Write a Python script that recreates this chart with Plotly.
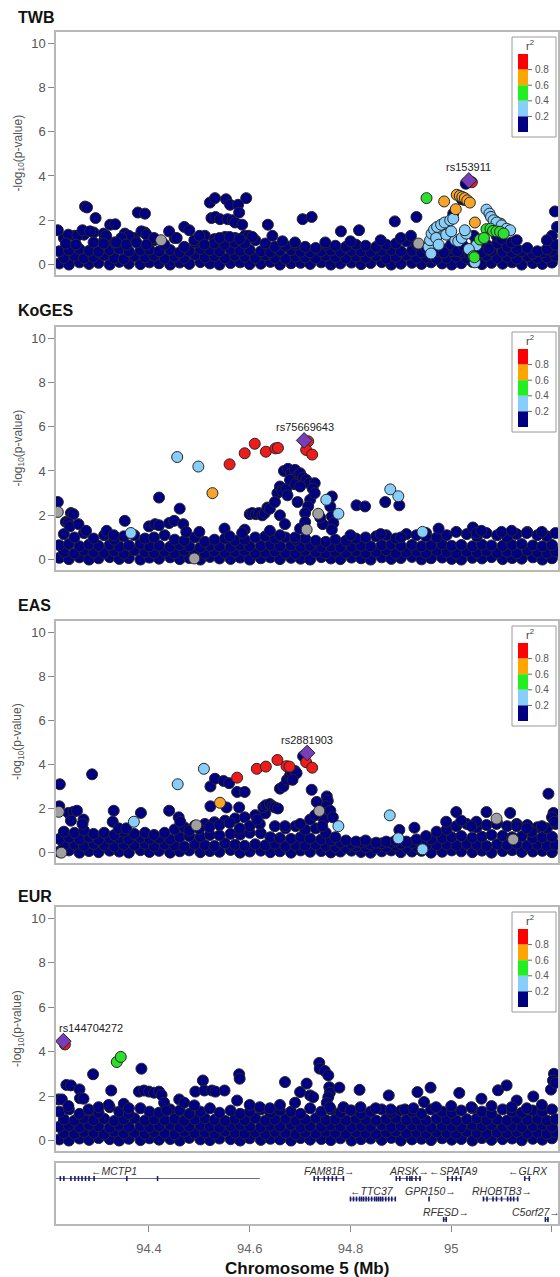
import plotly.graph_objects as go

W, H = 560, 1277
FONT = "Liberation Sans, Arial, Helvetica, sans-serif"

# ---------------- shared SNP positions of the dense low band (Mb) ----------------
band_pos_a = [94.222, 94.241, 94.262, 94.281, 94.300, 94.322, 94.341, 94.360, 94.383, 94.401,
              94.420, 94.442, 94.461, 94.480, 94.502, 94.521, 94.540, 94.562, 94.581, 94.600,
              94.622, 94.641, 94.660, 94.682, 94.701, 94.720, 94.742, 94.761, 94.780, 94.802,
              94.821, 94.840, 94.862, 94.881, 94.900, 94.922, 94.941, 94.960, 94.982, 95.001,
              95.020, 95.042, 95.061, 95.080, 95.102, 95.121, 95.140, 95.162, 95.181, 95.200]
band_pos_b = [94.231, 94.252, 94.271, 94.290, 94.311, 94.331, 94.350, 94.371, 94.392, 94.410,
              94.431, 94.451, 94.470, 94.491, 94.511, 94.530, 94.551, 94.571, 94.590, 94.611,
              94.631, 94.650, 94.671, 94.691, 94.710, 94.731, 94.751, 94.770, 94.791, 94.811,
              94.830, 94.851, 94.871, 94.890, 94.911, 94.931, 94.950, 94.971, 94.991, 95.010,
              95.031, 95.051, 95.070, 95.091, 95.111, 95.130, 95.151, 95.171, 95.190, 95.207]

# ---------------- TWB ----------------
twb_y0 = [0.05, 0.0, 0.1, 0.03, 0.08, 0.0, 0.12, 0.04, 0.02, 0.1,
          0.06, 0.0, 0.09, 0.03, 0.11, 0.05, 0.0, 0.07, 0.1, 0.02,
          0.04, 0.12, 0.0, 0.06, 0.08, 0.03, 0.1, 0.0, 0.05, 0.09,
          0.02, 0.07, 0.11, 0.0, 0.04, 0.08, 0.03, 0.1, 0.05, 0.0,
          0.06, 0.12, 0.02, 0.08, 0.04, 0.1, 0.0, 0.07, 0.03, 0.09]
twb_y1 = [0.3, 0.4, 0.28, 0.35, 0.42, 0.3, 0.25, 0.38, 0.33, 0.4,
          0.27, 0.36, 0.3, 0.44, 0.32, 0.38, 0.28, 0.4, 0.35, 0.3,
          0.42, 0.3, 0.26, 0.37, 0.33, 0.29, 0.4, 0.34, 0.28, 0.36,
          0.31, 0.39, 0.27, 0.35, 0.42, 0.3, 0.33, 0.25, 0.3, 0.36,
          0.28, 0.34, 0.4, 0.3, 0.35, 0.27, 0.38, 0.3, 0.33, 0.4]
twb_y2 = [0.6, 0.65, 0.7, 0.62, 0.58, 0.66, 0.7, 0.6, 0.64, 0.68,
          0.6, 0.66, 0.55, 0.62, 0.7, 0.65, 0.6, 0.68, 0.63, 0.66,
          0.6, 0.56, 0.62, 0.65, 0.58, 0.55, 0.6, 0.64, 0.58, 0.62,
          0.6, 0.57, 0.63, 0.66, 0.6, 0.62, 0.55, 0.5, 0.55, 0.6,
          0.55, 0.6, 0.65, 0.62, 0.58, 0.55, 0.6, 0.5, 0.55, 0.62]
twb_y3 = [1.2, 1.3, 1.35, 1.45, 1.1, 1.0, 1.3, 1.2, 1.45, 1.1,
          0.9, 1.2, 0.8, 1.0, 1.3, 1.15, 1.25, 1.2, 1.3, 1.1,
          0.95, 0.8, 0.85, 0.9, 0.8, 0.75, 0.9, 0.85, 0.8, 0.9,
          0.85, 0.8, 0.9, 0.95, 1.05, 0.9, 0.75, 0.6, 0.7, 0.8,
          0.7, 0.8, 0.9, 0.95, 0.8, 0.7, 0.75, 0.6, 0.7, 0.9]
twb_navy = [(94.219, 1.55), (94.273, 2.62), (94.277, 2.58), (94.294, 2.1), (94.24, 1.35), (94.258, 1.3),
            (94.268, 1.55), (94.283, 1.5), (94.31, 1.4), (94.323, 1.8), (94.333, 1.82), (94.315, 1.3),
            (94.352, 1.4), (94.36, 1.3), (94.345, 1.2), (94.378, 2.35), (94.392, 2.3), (94.385, 1.5),
            (94.395, 1.35), (94.41, 1.2), (94.44, 1.5), (94.47, 1.7), (94.48, 1.55), (94.455, 1.2),
            (94.49, 1.1), (94.50, 1.3), (94.521, 2.8), (94.531, 3.0), (94.524, 2.1), (94.532, 2.15),
            (94.541, 2.05), (94.553, 2.95), (94.561, 2.7), (94.556, 2.05), (94.566, 2.0), (94.577, 2.7),
            (94.579, 2.35), (94.571, 1.9), (94.593, 3.0), (94.585, 1.8), (94.598, 1.3), (94.605, 1.25),
            (94.636, 1.8), (94.645, 1.3), (94.705, 2.05), (94.723, 2.15), (94.781, 1.5), (94.817, 1.55),
            (94.888, 1.95), (94.931, 2.15), (95.029, 3.65), (95.021, 2.95), (95.026, 2.92), (95.004, 2.3),
            (95.206, 2.4), (95.21, 1.7), (95.2, 1.3), (95.19, 1.1), (95.045, 1.3), (95.05, 1.0),
            (95.09, 1.3), (95.1, 1.15), (95.12, 1.0), (95.13, 1.1), (94.665, 1.05), (94.69, 1.0),
            (94.75, 1.0), (94.8, 1.05), (94.86, 1.1), (94.9, 1.2), (94.92, 1.3), (94.235, 0.95),
            (94.255, 0.9), (94.29, 1.0), (94.31, 0.95), (94.335, 1.0), (94.355, 0.9), (94.375, 1.0),
            (94.395, 0.9), (94.53, 0.95), (94.55, 0.9), (94.57, 1.0), (94.59, 0.95), (94.51, 0.9),
            (94.54, 1.2), (94.56, 1.25), (94.58, 1.15), (95.0, 0.9), (95.012, 0.6), (95.024, 0.85),
            (95.038, 0.45), (94.985, 0.55), (95.06, 0.55), (95.075, 0.7)]
twb_gray = [(94.424, 1.1), (94.972, 1.55), (94.99, 1.72), (95.088, 1.95), (95.098, 1.85), (94.935, 0.95)]
twb_lblue = [(94.955, 0.8), (94.958, 1.1), (94.961, 1.4), (94.966, 1.58), (94.972, 1.7), (94.98, 1.8),
             (94.987, 1.9), (94.998, 2.0), (95.004, 2.07), (95.008, 1.1), (95.014, 1.05), (95.021, 1.2),
             (95.03, 1.4), (95.027, 1.55), (95.07, 2.48), (95.076, 2.3), (95.079, 2.15), (95.084, 2.0),
             (95.09, 1.9), (95.1, 1.77), (95.11, 1.62), (95.117, 1.55), (95.05, 0.87), (95.047, 0.1),
             (94.96, 0.5), (94.97, 1.2), (94.99, 1.35), (95.0, 1.5), (94.975, 0.9), (95.035, 0.7)]
twb_green = [(94.951, 3.0), (95.07, 1.6), (95.078, 1.62), (95.083, 1.52), (95.09, 1.5), (95.097, 1.48),
             (95.104, 1.4), (95.057, 1.13), (95.065, 1.2), (95.044, 0.38), (95.046, 0.33)]
twb_orange = [(94.986, 2.85), (95.011, 3.15), (95.017, 3.1), (95.022, 3.05), (95.027, 3.0), (95.032, 2.9),
              (95.037, 2.8), (95.009, 2.5), (95.047, 1.9)]
twb_red = [(95.041, 3.72)]
twb_lead = [(95.035, 3.8)]

# ---------------- KoGES ----------------
koges_y0 = [0.08, 0.02, 0.1, 0.0, 0.06, 0.11, 0.03, 0.07, 0.0, 0.09,
            0.04, 0.1, 0.02, 0.07, 0.0, 0.12, 0.05, 0.03, 0.09, 0.0,
            0.06, 0.1, 0.02, 0.08, 0.04, 0.0, 0.11, 0.05, 0.02, 0.09,
            0.06, 0.0, 0.1, 0.03, 0.07, 0.12, 0.01, 0.06, 0.09, 0.03,
            0.0, 0.08, 0.05, 0.11, 0.02, 0.07, 0.04, 0.1, 0.0, 0.06]
koges_y1 = [0.35, 0.28, 0.4, 0.32, 0.3, 0.38, 0.27, 0.42, 0.34, 0.3,
            0.36, 0.29, 0.41, 0.33, 0.27, 0.38, 0.31, 0.35, 0.4, 0.28,
            0.33, 0.37, 0.3, 0.26, 0.4, 0.34, 0.29, 0.36, 0.31, 0.38,
            0.3, 0.35, 0.42, 0.28, 0.33, 0.37, 0.3, 0.4, 0.34, 0.27,
            0.36, 0.31, 0.39, 0.3, 0.35, 0.28, 0.41, 0.33, 0.3, 0.37]
koges_y2 = [0.65, 0.7, 0.6, 0.68, 0.62, 0.66, 0.58, 0.64, 0.7, 0.6,
            0.63, 0.58, 0.66, 0.6, 0.55, 0.62, 0.6, 0.58, 0.64, 0.6,
            0.62, 0.66, 0.6, 0.64, 0.58, 0.62, 0.56, 0.6, 0.55, 0.58,
            0.62, 0.6, 0.65, 0.68, 0.62, 0.66, 0.6, 0.64, 0.7, 0.62,
            0.66, 0.6, 0.68, 0.64, 0.62, 0.66, 0.7, 0.64, 0.6, 0.66]
koges_y3 = [1.15, 1.0, 1.2, 0.95, 1.1, 0.9, 1.05, 1.1, 0.95, 1.0,
            1.1, 0.9, 0.85, 1.0, 0.8, 0.9, 0.95, 0.85, 0.9, 1.0,
            1.05, 0.95, 1.0, 0.9, 0.95, 0.85, 0.8, 0.9, 0.85, 0.95,
            1.0, 1.05, 1.1, 0.95, 1.15, 1.1, 1.2, 1.0, 1.1, 1.25,
            1.15, 1.05, 1.2, 1.1, 1.0, 1.15, 1.25, 1.1, 1.05, 1.2]
koges_navy = [(94.219, 2.6), (94.245, 2.1), (94.25, 2.05), (94.235, 1.7), (94.24, 1.65), (94.243, 1.5),
              (94.26, 1.6), (94.275, 1.3), (94.316, 1.3), (94.352, 1.75), (94.33, 1.1), (94.42, 2.8),
              (94.40, 1.5), (94.412, 1.6), (94.42, 1.55), (94.44, 1.65), (94.45, 1.75), (94.461, 2.3),
              (94.468, 1.6), (94.474, 1.25), (94.50, 1.25), (94.55, 1.4), (94.56, 1.05), (94.59, 1.35),
              (94.585, 1.2), (94.6, 2.05), (94.605, 2.1), (94.612, 2.05), (94.618, 2.1), (94.625, 2.0),
              (94.63, 2.1), (94.635, 2.35), (94.64, 2.3), (94.655, 3.0), (94.66, 3.3), (94.664, 3.1),
              (94.668, 4.0), (94.673, 3.2), (94.676, 4.1), (94.682, 3.9), (94.69, 4.05), (94.695, 3.8),
              (94.70, 3.9), (94.706, 3.7), (94.712, 3.6), (94.718, 3.45), (94.729, 3.45), (94.725, 3.2),
              (94.72, 2.7), (94.729, 3.0), (94.716, 2.4), (94.71, 2.1), (94.763, 2.85), (94.76, 2.4),
              (94.763, 1.95), (94.766, 1.65), (94.763, 1.35), (94.812, 2.45), (94.829, 2.4), (94.869, 2.6),
              (94.897, 2.45), (94.975, 1.4), (95.043, 1.45), (95.05, 1.2), (94.69, 1.0), (94.66, 1.1),
              (94.64, 1.3), (95.1, 1.25), (95.12, 1.3), (95.15, 1.2), (95.18, 1.25), (95.06, 1.3),
              (94.95, 1.05), (94.9, 1.0), (94.86, 1.15), (94.8, 1.1), (94.745, 1.6), (94.74, 1.9),
              (94.65, 2.6), (94.66, 2.0), (94.67, 1.6), (94.70, 1.4), (94.71, 1.7), (94.68, 3.6),
              (94.69, 3.4), (94.70, 3.3), (94.675, 2.9), (94.695, 2.6)]
koges_gray = [(94.219, 2.15), (94.736, 2.07), (94.713, 1.35), (94.49, 0.05)]
koges_lblue = [(94.364, 1.2), (94.456, 4.63), (94.498, 4.2), (94.752, 2.7), (94.776, 2.07), (94.879, 3.17),
               (94.895, 2.86), (94.943, 1.25)]
koges_green = []
koges_orange = [(94.526, 3.0)]
koges_red = [(94.56, 4.3), (94.59, 4.8), (94.61, 5.23), (94.632, 4.87), (94.651, 5.02), (94.656, 5.04),
             (94.716, 5.34), (94.712, 4.95), (94.724, 4.74)]
koges_lead = [(94.708, 5.38)]

# ---------------- EAS ----------------
eas_y0 = [0.04, 0.1, 0.0, 0.07, 0.02, 0.09, 0.05, 0.0, 0.11, 0.03,
          0.08, 0.0, 0.06, 0.1, 0.02, 0.07, 0.04, 0.12, 0.0, 0.05,
          0.09, 0.02, 0.06, 0.0, 0.1, 0.04, 0.07, 0.01, 0.05, 0.09,
          0.03, 0.0, 0.06, 0.1, 0.02, 0.05, 0.08, 0.0, 0.04, 0.1,
          0.06, 0.02, 0.09, 0.0, 0.07, 0.11, 0.03, 0.05, 0.08, 0.02]
eas_y1 = [0.32, 0.38, 0.3, 0.4, 0.35, 0.28, 0.36, 0.33, 0.4, 0.3,
          0.37, 0.32, 0.28, 0.39, 0.34, 0.3, 0.42, 0.36, 0.31, 0.38,
          0.33, 0.4, 0.29, 0.35, 0.32, 0.37, 0.3, 0.26, 0.22, 0.28,
          0.25, 0.2, 0.24, 0.3, 0.22, 0.27, 0.3, 0.34, 0.38, 0.32,
          0.4, 0.36, 0.3, 0.38, 0.34, 0.41, 0.32, 0.37, 0.3, 0.36]
eas_y2 = [0.62, 0.68, 0.6, 0.7, 0.58, 0.64, 0.66, 0.6, 0.68, 0.62,
          0.65, 0.6, 0.7, 0.75, 0.72, 0.8, 0.78, 0.85, 0.82, 0.9,
          0.88, 0.7, 0.66, 0.62, 0.7, 0.64, 0.6, 0.55, 0.45, 0.4,
          0.45, 0.38, 0.42, 0.45, 0.4, 0.44, 0.5, 0.6, 0.66, 0.7,
          0.75, 0.68, 0.72, 0.8, 0.76, 0.7, 0.74, 0.66, 0.7, 0.72]
eas_y3 = [0.95, 0.9, 1.0, 0.85, 0.9, 0.8, 0.95, 0.85, 0.9, 0.8,
          0.9, 1.05, 1.15, 1.22, 1.3, 1.38, 1.45, 1.55, 1.6, 1.7,
          1.78, 1.2, 1.1, 1.2, 1.05, 1.1, 0.9, 0.7, 0.55, 0.5,
          0.55, 0.45, 0.5, 0.55, 0.5, 0.6, 0.75, 0.95, 1.05, 1.2,
          1.3, 1.15, 1.25, 1.35, 1.2, 1.3, 1.25, 1.15, 1.1, 1.3]
eas_navy = [(94.223, 3.1), (94.222, 2.1), (94.287, 3.55), (94.24, 1.8), (94.25, 1.85), (94.257, 1.9),
            (94.245, 1.45), (94.27, 1.5), (94.268, 1.3), (94.33, 1.9), (94.328, 1.4), (94.34, 1.1),
            (94.355, 1.1), (94.384, 1.8), (94.44, 1.9), (94.459, 1.6), (94.462, 1.4), (94.522, 3.0),
            (94.531, 3.35), (94.548, 3.25), (94.559, 3.15), (94.575, 2.75), (94.59, 2.75), (94.522, 2.1),
            (94.554, 2.05), (94.579, 2.05), (94.627, 2.05), (94.632, 2.15), (94.64, 2.2), (94.645, 2.1),
            (94.65, 2.05), (94.656, 2.0), (94.66, 2.9), (94.667, 3.0), (94.674, 3.3), (94.68, 3.5),
            (94.683, 3.65), (94.69, 3.7), (94.693, 3.6), (94.685, 3.3), (94.706, 4.37), (94.723, 2.85),
            (94.733, 2.3), (94.753, 2.55), (94.755, 2.35), (94.752, 2.1), (94.75, 1.8), (94.747, 1.5),
            (94.744, 1.2), (94.76, 1.9), (94.765, 1.6), (94.897, 1.03), (94.927, 1.13), (95.01, 1.84),
            (95.07, 1.84), (95.117, 1.8), (95.16, 0.94), (95.193, 2.67), (95.203, 1.8), (95.2, 1.6),
            (95.205, 1.4), (94.67, 1.2), (94.6, 1.2), (94.62, 1.3), (94.615, 1.5), (94.58, 1.1),
            (94.5, 1.08), (94.48, 1.0), (94.52, 1.15), (94.54, 1.25), (94.56, 1.35), (94.99, 1.4),
            (95.02, 1.45), (95.05, 1.4), (95.09, 1.3), (95.13, 1.2), (95.04, 1.2), (95.15, 1.1),
            (95.18, 1.2), (94.72, 1.5), (94.73, 1.7), (94.70, 1.3)]
eas_gray = [(94.221, 1.85), (94.226, 0.0), (94.494, 1.24), (94.738, 1.89), (95.09, 1.54), (95.123, 0.6)]
eas_lblue = [(94.37, 1.4), (94.457, 3.1), (94.509, 3.8), (94.776, 1.2), (94.878, 1.69), (94.895, 0.65),
             (94.943, 0.15)]
eas_green = []
eas_orange = [(94.541, 2.26)]
eas_red = [(94.575, 3.4), (94.614, 3.8), (94.632, 3.9), (94.655, 4.2), (94.673, 3.92), (94.679, 3.9),
           (94.712, 4.1), (94.724, 3.85)]
eas_lead = [(94.714, 4.52)]

# ---------------- EUR ----------------
eur_y0 = [0.05, 0.0, 0.09, 0.03, 0.11, 0.06, 0.0, 0.08, 0.02, 0.1,
          0.04, 0.07, 0.0, 0.12, 0.05, 0.02, 0.09, 0.06, 0.0, 0.1,
          0.03, 0.08, 0.05, 0.0, 0.11, 0.04, 0.07, 0.02, 0.1, 0.0,
          0.06, 0.09, 0.03, 0.12, 0.0, 0.05, 0.08, 0.02, 0.1, 0.04,
          0.07, 0.0, 0.11, 0.03, 0.06, 0.09, 0.01, 0.08, 0.04, 0.1]
eur_y1 = [0.33, 0.3, 0.38, 0.35, 0.28, 0.4, 0.32, 0.36, 0.3, 0.38,
          0.34, 0.29, 0.4, 0.33, 0.36, 0.3, 0.42, 0.35, 0.31, 0.37,
          0.3, 0.39, 0.34, 0.28, 0.36, 0.32, 0.4, 0.35, 0.3, 0.38,
          0.33, 0.29, 0.37, 0.41, 0.32, 0.36, 0.3, 0.38, 0.34, 0.31,
          0.4, 0.35, 0.3, 0.37, 0.33, 0.39, 0.32, 0.36, 0.3, 0.38]
eur_y2 = [0.62, 0.66, 0.6, 0.7, 0.64, 0.58, 0.68, 0.62, 0.66, 0.6,
          0.65, 0.7, 0.6, 0.63, 0.68, 0.62, 0.58, 0.66, 0.7, 0.64,
          0.6, 0.67, 0.63, 0.7, 0.6, 0.65, 0.62, 0.68, 0.64, 0.6,
          0.66, 0.62, 0.7, 0.6, 0.65, 0.68, 0.62, 0.58, 0.66, 0.63,
          0.6, 0.68, 0.64, 0.7, 0.62, 0.66, 0.6, 0.65, 0.7, 0.62]
eur_y3 = [0.95, 0.9, 1.0, 0.92, 0.98, 0.88, 0.95, 1.0, 0.9, 0.96,
          0.92, 0.98, 0.9, 0.95, 1.0, 0.93, 0.88, 0.97, 0.92, 1.0,
          0.9, 0.95, 0.98, 0.9, 0.94, 1.0, 0.92, 0.96, 0.9, 0.98,
          0.93, 0.9, 0.97, 1.0, 0.92, 0.95, 0.9, 0.98, 0.94, 0.9,
          0.96, 1.0, 0.92, 0.95, 0.9, 0.98, 0.93, 0.97, 0.9, 0.96]
eur_y4 = [1.3, 1.4, 1.2, 1.35, 1.25, 1.5, 1.3, 1.2, 1.45, 1.3,
          1.25, 1.4, 1.35, 1.2, 1.3, 1.45, 1.25, 1.35, 1.2, 1.3,
          1.4, 1.25, 1.35, 1.3, 1.2, 1.45, 1.3, 1.4, 1.25, 1.35,
          1.2, 1.3, 1.4, 1.25, 1.35, 1.3, 1.2, 1.4, 1.3, 1.25,
          1.35, 1.45, 1.3, 1.2, 1.4, 1.3, 1.25, 1.35, 1.3, 1.4]
eur_navy = [(94.289, 2.98), (94.385, 3.23), (94.236, 2.5), (94.245, 2.48), (94.262, 2.3), (94.22, 1.85),
            (94.227, 1.85), (94.263, 1.9), (94.27, 1.88), (94.325, 2.25), (94.38, 2.2), (94.39, 2.25),
            (94.40, 2.2), (94.41, 2.15), (94.42, 2.2), (94.425, 2.05), (94.43, 1.7), (94.435, 1.35),
            (94.46, 1.85), (94.47, 1.7), (94.49, 1.58), (94.492, 2.2), (94.507, 2.7), (94.51, 2.25),
            (94.525, 2.25), (94.532, 2.2), (94.55, 2.25), (94.579, 2.98), (94.58, 2.78), (94.575, 1.8),
            (94.67, 2.63), (94.7, 2.18), (94.713, 2.56), (94.72, 2.03), (94.726, 1.95), (94.738, 3.49),
            (94.739, 3.23), (94.749, 3.13), (94.756, 2.93), (94.758, 2.4), (94.759, 2.15), (94.756, 1.95),
            (94.753, 1.7), (94.759, 1.5), (94.778, 2.38), (94.818, 2.28), (94.786, 1.5), (94.8, 1.35),
            (94.82, 1.5), (94.876, 2.03), (94.933, 2.18), (94.959, 2.38), (94.946, 1.73), (94.908, 1.4),
            (94.925, 1.45), (95.016, 2.14), (95.06, 1.88), (95.093, 2.26), (95.11, 2.48), (95.13, 1.8),
            (95.163, 1.98), (95.198, 2.29), (95.204, 3.0), (95.202, 2.7), (95.207, 2.6), (94.3, 1.5),
            (94.32, 1.6), (94.35, 1.65), (94.36, 1.45), (94.28, 1.4), (94.24, 1.55), (94.6, 1.6),
            (94.62, 1.5), (94.64, 1.45), (94.66, 1.6), (94.69, 1.7), (94.85, 1.45), (94.88, 1.4),
            (94.97, 1.5), (95.0, 1.55), (95.04, 1.5), (95.08, 1.55), (95.12, 1.5), (95.15, 1.45),
            (95.18, 1.6)]
eur_gray = []
eur_lblue = []
eur_green = [(94.336, 3.53), (94.344, 3.76)]
eur_orange = []
eur_red = [(94.233, 4.32)]
eur_lead = [(94.230, 4.47)]

# ---------------- lead SNP names ----------------
lead_names = ["rs153911", "rs75669643", "rs2881903", "rs144704272"]
study_names = ["TWB", "KoGES", "EAS", "EUR"]

# ---------------- genes (start, end in Mb; strand; row; label centre) ----------------
gene_names = ["MCTP1", "FAM81B", "ARSK", "SPATA9", "GLRX", "TTC37", "GPR150", "RHOBTB3", "RFESD", "C5orf27"]
gene_start = [94.200, 94.727, 94.890, 94.992, 95.145, 94.799, 94.955, 95.063, 94.984, 95.186]
gene_end = [94.620, 94.787, 94.940, 95.020, 95.157, 94.890, 94.958, 95.133, 94.992, 95.194]
gene_strand = ["-", "+", "+", "-", "-", "-", "+", "+", "+", "+"]
gene_row = [0, 0, 0, 0, 0, 1, 1, 1, 2, 2]
gene_label_x = [94.331, 94.759, 94.917, 95.005, 95.152, 94.843, 94.959, 95.100, 94.989, 95.168]
gene_exons = [
    [94.224, 94.231, 94.245, 94.253, 94.260, 94.267, 94.274, 94.281, 94.291, 94.356, 94.417],
    [94.728, 94.736, 94.748, 94.756, 94.764, 94.772, 94.786],
    [94.891, 94.898, 94.912, 94.918, 94.922, 94.930, 94.938],
    [94.993, 95.002, 95.010, 95.019],
    [95.146, 95.155],
    [94.800, 94.806, 94.812, 94.818, 94.822, 94.826, 94.831, 94.836, 94.842, 94.848,
     94.852, 94.856, 94.860, 94.864, 94.870, 94.876, 94.882, 94.889],
    [94.956],
    [95.064, 95.071, 95.083, 95.090, 95.100, 95.112, 95.118, 95.124, 95.132],
    [94.985, 94.990],
    [95.187, 95.192],
]

x_tick_vals = [94.4, 94.6, 94.8, 95.0, 95.2]
x_tick_text = ["94.4", "94.6", "94.8", "95", "95.2"]
y_tick_vals = [0, 2, 4, 6, 8, 10]
r2_tick_text = ["0.8", "0.6", "0.4", "0.2"]

# ---------------- styling ----------------
COL = {"navy": "#000080", "lblue": "#87CEFA", "green": "#2BDF2B", "orange": "#F5A52A",
       "red": "#EE1B1B", "gray": "#A0A0A0"}
LEGEND_COLS = ["#FF0000", "#FFA500", "#22EE22", "#87CEFA", "#000080"]
LEAD_COL = "#7A3DB8"
FRAME = "#B8B8B8"
XR = [94.2154, 95.212]
YR = [-0.47, 10.5]
X_DOM = [56 / W, 558 / W]
MSIZE = 11

panel_px = [(32, 275), (327, 570), (621, 863), (907, 1151)]
title_py = [17, 310, 605, 896]
label_spec = [(95.035, "center"), (94.709, "center"), (94.714, "center"), (94.2168, "left")]

panel_data = [
    dict(rows=[(band_pos_a, twb_y0), (band_pos_b, twb_y1), (band_pos_a, twb_y2), (band_pos_b, twb_y3)],
         navy=twb_navy, gray=twb_gray, lblue=twb_lblue, green=twb_green, orange=twb_orange,
         red=twb_red, lead=twb_lead),
    dict(rows=[(band_pos_a, koges_y0), (band_pos_b, koges_y1), (band_pos_a, koges_y2), (band_pos_b, koges_y3)],
         navy=koges_navy, gray=koges_gray, lblue=koges_lblue, green=koges_green, orange=koges_orange,
         red=koges_red, lead=koges_lead),
    dict(rows=[(band_pos_a, eas_y0), (band_pos_b, eas_y1), (band_pos_a, eas_y2), (band_pos_b, eas_y3)],
         navy=eas_navy, gray=eas_gray, lblue=eas_lblue, green=eas_green, orange=eas_orange,
         red=eas_red, lead=eas_lead),
    dict(rows=[(band_pos_a, eur_y0), (band_pos_b, eur_y1), (band_pos_a, eur_y2), (band_pos_b, eur_y3),
               (band_pos_a, eur_y4)],
         navy=eur_navy, gray=eur_gray, lblue=eur_lblue, green=eur_green, orange=eur_orange,
         red=eur_red, lead=eur_lead),
]


def px_x(px):
    return px / W


def px_y(py):
    return 1 - py / H


fig = go.Figure()
layout = dict(width=W, height=H, margin=dict(l=0, r=0, t=0, b=0), paper_bgcolor="white",
              plot_bgcolor="white", showlegend=False, font=dict(family=FONT, color="#444"))
shapes, annotations = [], []

MK_LINE = dict(color="#262626", width=1.0)

for i, (pdat, (top, bot)) in enumerate(zip(panel_data, panel_px), start=1):
    xa, ya = f"x{i}", f"y{i}"
    bx, by = [], []
    for xs, ys in pdat["rows"]:
        for a, b in zip(xs, ys):
            bx.append(a)
            by.append(b)
    for a, b in pdat["navy"]:
        bx.append(a)
        by.append(b)
    fig.add_trace(go.Scatter(x=bx, y=by, mode="markers", xaxis=xa, yaxis=ya, hoverinfo="skip",
                             marker=dict(size=MSIZE, color=COL["navy"], line=MK_LINE)))
    for key in ["gray", "lblue", "green", "orange", "red"]:
        pts = pdat[key]
        if not pts:
            continue
        fig.add_trace(go.Scatter(x=[p[0] for p in pts], y=[p[1] for p in pts], mode="markers",
                                 xaxis=xa, yaxis=ya, hoverinfo="skip",
                                 marker=dict(size=MSIZE, color=COL[key], line=MK_LINE)))
    lead = pdat["lead"]
    fig.add_trace(go.Scatter(x=[p[0] for p in lead], y=[p[1] for p in lead], mode="markers",
                             xaxis=xa, yaxis=ya, hoverinfo="skip",
                             marker=dict(size=12, symbol="diamond", color=LEAD_COL, line=MK_LINE)))
    lx, lanchor = label_spec[i - 1]
    annotations.append(dict(x=lx, y=lead[0][1] + 0.24, xref=xa, yref=ya, text=lead_names[i - 1],
                            showarrow=False, xanchor=lanchor, yanchor="bottom",
                            font=dict(size=11, color="#222", family=FONT)))
    dom = [px_y(bot), px_y(top)]
    layout[f"xaxis{i}"] = dict(domain=X_DOM, range=XR, anchor=ya, showticklabels=False, ticks="",
                               showline=True, mirror=True, linecolor=FRAME, linewidth=1.5,
                               showgrid=False, zeroline=False)
    layout[f"yaxis{i}"] = dict(domain=dom, range=YR, anchor=xa, tickvals=y_tick_vals, ticks="outside",
                               ticklen=6, tickcolor="#888", tickwidth=1,
                               tickfont=dict(size=13, color="#555", family=FONT),
                               showline=True, mirror=True, linecolor=FRAME, linewidth=1.5,
                               showgrid=False, zeroline=False)
    annotations.append(dict(x=px_x(16), y=px_y(title_py[i - 1]), xref="paper", yref="paper",
                            text=f"<b>{study_names[i - 1]}</b>", showarrow=False, xanchor="left",
                            yanchor="middle", font=dict(size=16, color="#111", family=FONT)))
    annotations.append(dict(x=px_x(18), y=px_y((top + bot) / 2), xref="paper", yref="paper",
                            text="-log<sub>10</sub>(p-value)", showarrow=False, textangle=-90,
                            xanchor="center", yanchor="middle",
                            font=dict(size=12, color="#555", family=FONT)))
    shapes.append(dict(type="rect", xref="paper", yref="paper", x0=px_x(512), x1=px_x(556),
                       y0=px_y(top + 105), y1=px_y(top + 5), line=dict(color="#9a9a9a", width=1),
                       fillcolor="white", layer="above"))
    seg = 15.6
    for k, c in enumerate(LEGEND_COLS):
        shapes.append(dict(type="rect", xref="paper", yref="paper", x0=px_x(518), x1=px_x(528),
                           y0=px_y(top + 22 + seg * (k + 1)), y1=px_y(top + 22 + seg * k),
                           line=dict(width=0), fillcolor=c, layer="above"))
    for k, t in enumerate(r2_tick_text):
        yy = px_y(top + 22 + seg * (k + 1))
        shapes.append(dict(type="line", xref="paper", yref="paper", x0=px_x(528), x1=px_x(532),
                           y0=yy, y1=yy, line=dict(color="#666", width=1), layer="above"))
        annotations.append(dict(x=px_x(533), y=yy, xref="paper", yref="paper", text=t, showarrow=False,
                                xanchor="left", yanchor="middle",
                                font=dict(size=10, color="#555", family=FONT)))
    annotations.append(dict(x=px_x(530), y=px_y(top + 13), xref="paper", yref="paper",
                            text="r<sup>2</sup>", showarrow=False, xanchor="center", yanchor="middle",
                            font=dict(size=11, color="#444", family=FONT)))

# ---------------- gene track ----------------
G_TOP, G_BOT = 1163, 1224
gx, gy, ex, ey = [], [], [], []
for name, s, e, strand, row, lxp, exons in zip(gene_names, gene_start, gene_end, gene_strand,
                                                gene_row, gene_label_x, gene_exons):
    body_y = 15.5 + 20.5 * row
    gx += [s, e, None]
    gy += [body_y, body_y, None]
    for q in exons:
        ex.append(q)
        ey.append(body_y)
    label = ("\u2190" + name) if strand == "-" else (name + "\u2192")
    annotations.append(dict(x=lxp, y=7.5 + 20.5 * row, xref="x5", yref="y5", text=f"<i>{label}</i>",
                            showarrow=False, xanchor="center", yanchor="middle",
                            font=dict(size=10.5, color="#333", family=FONT)))
fig.add_trace(go.Scatter(x=gx, y=gy, mode="lines", xaxis="x5", yaxis="y5", hoverinfo="skip",
                         line=dict(color="#6a6a98", width=1)))
fig.add_trace(go.Scatter(x=ex, y=ey, mode="markers", xaxis="x5", yaxis="y5", hoverinfo="skip",
                         marker=dict(symbol="line-ns", size=3.5, line=dict(color="#1a1a6e", width=1.6))))

layout["xaxis5"] = dict(domain=X_DOM, range=XR, anchor="y5", tickvals=x_tick_vals, ticktext=x_tick_text,
                        ticks="outside", ticklen=6, tickcolor="#888", ticklabelstandoff=6,
                        tickfont=dict(size=13, color="#666", family=FONT), showline=True, mirror=True,
                        linecolor=FRAME, linewidth=1.5, showgrid=False, zeroline=False)
layout["yaxis5"] = dict(domain=[px_y(G_BOT), px_y(G_TOP)], range=[G_BOT - G_TOP, 0], anchor="x5",
                        showticklabels=False, ticks="", showline=True, mirror=True, linecolor=FRAME,
                        linewidth=1.5, showgrid=False, zeroline=False)

annotations.append(dict(x=px_x(307), y=px_y(1268), xref="paper", yref="paper",
                        text="<b>Chromosome 5 (Mb)</b>", showarrow=False, xanchor="center",
                        yanchor="middle", font=dict(size=17, color="#111", family=FONT)))

layout["shapes"] = shapes
layout["annotations"] = annotations
fig.update_layout(**layout)
fig.write_html("out.html", config={"displayModeBar": False},
               post_script="document.body.style.margin='0';document.body.style.overflow='hidden';")
